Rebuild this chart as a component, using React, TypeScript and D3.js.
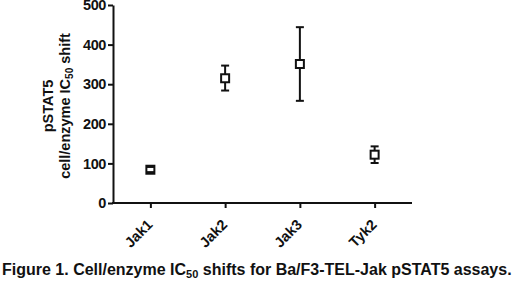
import { useEffect, useRef } from "react";
import * as d3 from "d3";

const categories = ["Jak1", "Jak2", "Jak3", "Tyk2"];
const means = [84, 315, 351, 122];
const errLow = [78, 284, 258, 101];
const errHigh = [91, 347, 444, 143];
const yTicks = [0, 100, 200, 300, 400, 500];

const W = 520;
const H = 282;
const FONT = "'Liberation Sans', Arial, sans-serif";

export default function App() {
  const svgRef = useRef<SVGSVGElement | null>(null);

  useEffect(() => {
    if (!svgRef.current) return;
    const svg = d3.select(svgRef.current);
    svg.selectAll("*").remove();

    const left = 113;
    const right = 412;
    const top = 5;
    const bottom = 203;

    const x = d3
      .scalePoint<string>()
      .domain(categories)
      .range([left, right])
      .padding(0.5);
    const y = d3.scaleLinear().domain([0, 500]).range([bottom, top]);

    // y axis
    const yAxis = svg
      .append("g")
      .attr("transform", `translate(${left},0)`)
      .call(d3.axisLeft(y).tickValues(yTicks).tickSize(5).tickPadding(2).tickSizeOuter(0));
    yAxis.select(".domain").attr("stroke", "#111").attr("stroke-width", 2);
    yAxis.selectAll(".tick line").attr("stroke", "#111").attr("stroke-width", 2);
    yAxis
      .selectAll(".tick text")
      .attr("fill", "#111")
      .style("font-family", FONT)
      .style("font-weight", "bold")
      .style("font-size", "14.5px")
      .style("letter-spacing", "-0.4px");

    // x axis
    const xAxis = svg
      .append("g")
      .attr("transform", `translate(0,${bottom})`)
      .call(d3.axisBottom(x).tickSize(5).tickSizeOuter(0));
    xAxis
      .select(".domain")
      .attr("stroke", "#111")
      .attr("stroke-width", 2)
      .attr("d", `M${left - 1},0H${right}`);
    xAxis.selectAll(".tick line").attr("stroke", "#111").attr("stroke-width", 2);
    xAxis
      .selectAll(".tick text")
      .attr("fill", "#111")
      .attr("x", 0)
      .attr("y", 0)
      .attr("dy", "0.35em")
      .attr("text-anchor", "end")
      .attr("transform", "translate(-1,19) rotate(-45)")
      .style("font-family", FONT)
      .style("font-weight", "bold")
      .style("font-size", "14.5px");

    // y label
    const lbl = svg
      .append("text")
      .attr("transform", `translate(0,106) rotate(-90)`)
      .attr("text-anchor", "middle")
      .attr("fill", "#111")
      .style("font-family", FONT)
      .style("font-weight", "bold")
      .style("font-size", "14.5px");
    lbl.append("tspan").attr("x", 0).attr("y", 53).text("pSTAT5");
    const l2 = lbl.append("tspan").attr("x", 0).attr("y", 70);
    l2.append("tspan").text("cell/enzyme IC");
    l2.append("tspan").attr("font-size", "10px").attr("dy", 3).text("50");
    l2.append("tspan").attr("dy", -3).text(" shift");

    // markers & error bars
    const g = svg.append("g").attr("stroke", "#111").attr("stroke-width", 2).attr("fill", "none");
    categories.forEach((c, i) => {
      const cx = x(c) as number;
      const cy = y(means[i]);
      g.append("rect")
        .attr("x", cx - 4)
        .attr("y", cy - 4)
        .attr("width", 8)
        .attr("height", 8)
        .attr("fill", "white");
      if (y(errHigh[i]) < cy - 4)
        g.append("line").attr("x1", cx).attr("x2", cx).attr("y1", cy - 4).attr("y2", y(errHigh[i]));
      if (y(errLow[i]) > cy + 4)
        g.append("line").attr("x1", cx).attr("x2", cx).attr("y1", cy + 4).attr("y2", y(errLow[i]));
      [errLow[i], errHigh[i]].forEach((v) => {
        g.append("line").attr("x1", cx - 4).attr("x2", cx + 4).attr("y1", y(v)).attr("y2", y(v));
      });
    });

    // caption
    const cap = svg
      .append("text")
      .attr("x", 2)
      .attr("y", 275)
      .attr("fill", "#111")
      .style("font-family", FONT)
      .style("font-weight", "bold")
      .style("font-size", "16px");
    cap.append("tspan").text("Figure 1. Cell/enzyme IC");
    cap.append("tspan").attr("font-size", "11px").attr("dy", 3).text("50");
    cap.append("tspan").attr("dy", -3).text(" shifts for Ba/F3-TEL-Jak pSTAT5 assays.");
  }, []);

  return (
    <svg
      ref={svgRef}
      width={W}
      height={H}
      style={{ position: "absolute", left: 0, top: 0, background: "white" }}
    />
  );
}
